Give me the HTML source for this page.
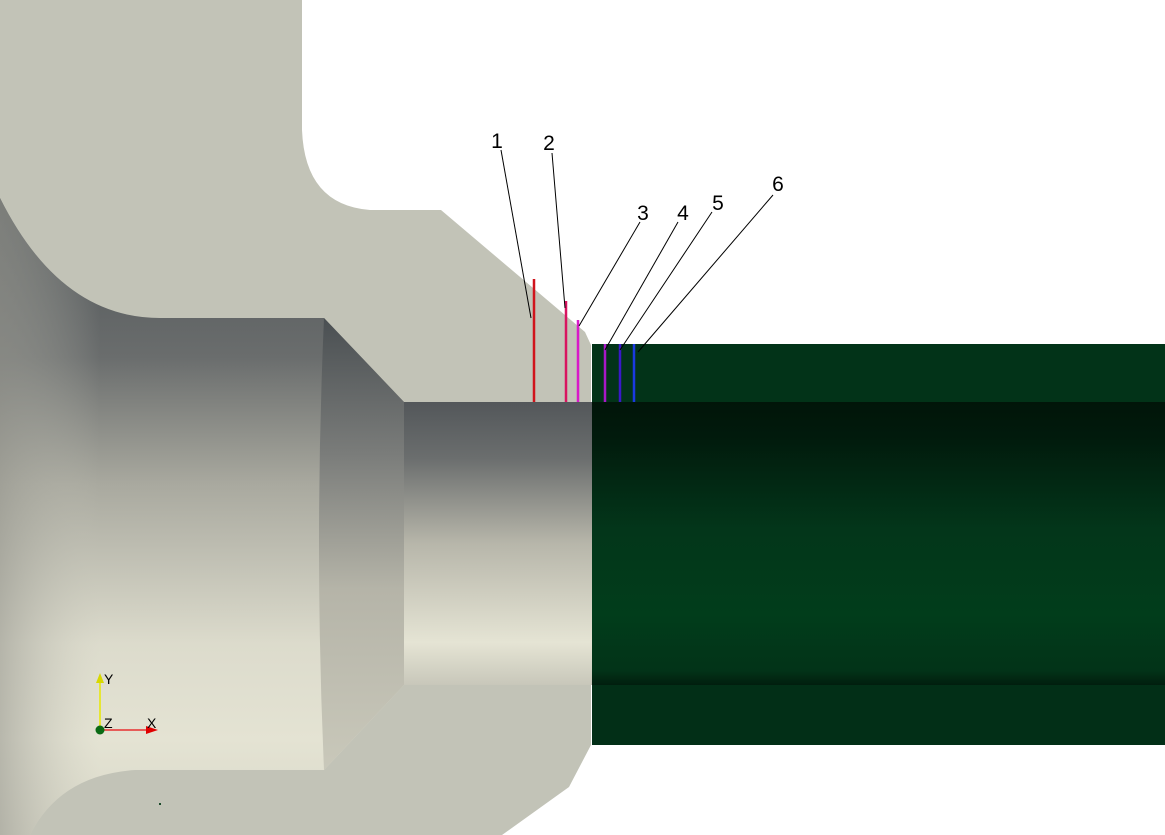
<!DOCTYPE html>
<html><head><meta charset="utf-8"><style>
html,body{margin:0;padding:0;background:#fff;}
svg{display:block;}
text{font-family:"Liberation Sans",sans-serif;}
</style></head><body>
<svg width="1165" height="835" viewBox="0 0 1165 835" xmlns="http://www.w3.org/2000/svg">
<defs>
<linearGradient id="cav" x1="0" y1="0" x2="0" y2="1">
<stop offset="0" stop-color="#4e5356"/>
<stop offset="0.25" stop-color="#6a6d6d"/>
<stop offset="0.45" stop-color="#a9a99f"/>
<stop offset="0.7" stop-color="#dcdbcc"/>
<stop offset="0.85" stop-color="#e4e3d3"/>
<stop offset="1" stop-color="#d8d7c8"/>
</linearGradient>
<linearGradient id="lft" x1="0" y1="0" x2="1" y2="0">
<stop offset="0" stop-color="#9a9a92" stop-opacity="0.6"/>
<stop offset="0.5" stop-color="#c8c8bc" stop-opacity="0"/>
</linearGradient>
<linearGradient id="fr" x1="0" y1="0" x2="0" y2="1">
<stop offset="0" stop-color="#4a4f52"/>
<stop offset="0.3" stop-color="#7a7c7a"/>
<stop offset="0.6" stop-color="#b5b4a8"/>
<stop offset="1" stop-color="#c9c8ba"/>
</linearGradient>
<linearGradient id="neck" x1="0" y1="0" x2="0" y2="1">
<stop offset="0" stop-color="#53575a"/>
<stop offset="0.2" stop-color="#6b6e6e"/>
<stop offset="0.5" stop-color="#b7b6aa"/>
<stop offset="0.85" stop-color="#e5e4d4"/>
<stop offset="1" stop-color="#c8c7ba"/>
</linearGradient>
<linearGradient id="grn" x1="0" y1="0" x2="0" y2="1">
<stop offset="0" stop-color="#011509"/>
<stop offset="0.12" stop-color="#011a0c"/>
<stop offset="0.45" stop-color="#03361a"/>
<stop offset="0.75" stop-color="#013d1b"/>
<stop offset="0.95" stop-color="#023318"/>
<stop offset="1" stop-color="#011e0e"/>
</linearGradient>
</defs>
<!-- solid gray body -->
<path d="M0 0 L302 0 L302 130 Q305 205 370 210 L441 210 L585 332 L591 345 L591 745 L569 787 L502 835 L0 835 Z" fill="#c2c3b7"/>
<!-- cavity -->
<path d="M0 198 Q60 318 160 318 L324 318 L404 402 L592 402 L592 685 L404 685 L324 770 L135 770 Q60 775 30 835 L0 835 Z" fill="url(#cav)"/>
<path d="M0 198 Q60 318 160 318 L200 318 L200 770 L135 770 Q60 775 30 835 L0 835 Z" fill="url(#lft)"/>
<!-- frustum -->
<path d="M324 318 L404 402 Q412 545 404 685 L324 770 Q314 545 324 318 Z" fill="url(#fr)"/>
<!-- neck -->
<rect x="404" y="402" width="188" height="283" fill="url(#neck)"/>
<!-- green -->
<rect x="592" y="344" width="573" height="401" fill="#023318"/>
<rect x="592" y="402" width="573" height="283" fill="url(#grn)"/>
<rect x="592" y="685" width="573" height="60" fill="#022f17"/>
<!-- probe lines -->
<line x1="534" y1="279" x2="534" y2="402" stroke="#d0141c" stroke-width="2.5"/>
<line x1="566" y1="301" x2="566" y2="402" stroke="#d81460" stroke-width="2.5"/>
<line x1="578" y1="320" x2="578" y2="402" stroke="#d81ac8" stroke-width="2.5"/>
<line x1="605" y1="344" x2="605" y2="402" stroke="#a818c8" stroke-width="2.5"/>
<line x1="620" y1="344" x2="620" y2="402" stroke="#3a18c8" stroke-width="2.5"/>
<line x1="634" y1="344" x2="634" y2="402" stroke="#1a3ae0" stroke-width="2.5"/>
<!-- leaders -->
<g stroke="#000" stroke-width="1">
<line x1="501" y1="150" x2="531" y2="318"/>
<line x1="552" y1="153" x2="565" y2="308"/>
<line x1="640" y1="222" x2="579" y2="326"/>
<line x1="678" y1="222" x2="605" y2="350"/>
<line x1="712" y1="212" x2="620" y2="350"/>
<line x1="773" y1="195" x2="638" y2="352"/>
</g>
<g font-size="21" fill="#000" text-anchor="middle">
<text x="497" y="148">1</text>
<text x="549" y="150">2</text>
<text x="643" y="220">3</text>
<text x="683" y="220">4</text>
<text x="718" y="210">5</text>
<text x="778" y="191">6</text>
</g>
<!-- axes -->
<line x1="100" y1="730" x2="100" y2="680" stroke="#e8e800" stroke-width="1.5"/>
<polygon points="96,683 104,683 100,673" fill="#d8d800"/>
<line x1="100" y1="730" x2="150" y2="730" stroke="#e83030" stroke-width="1.5"/>
<polygon points="146,726 146,734 158,730" fill="#e00000"/>
<circle cx="100" cy="730" r="4.5" fill="#0a6a14"/>
<g font-size="14" fill="#000">
<text x="104" y="684">Y</text>
<text x="104" y="728">Z</text>
<text x="147" y="728">X</text>
</g>
<rect x="159" y="803" width="2" height="2" fill="#1a4a2a"/>
</svg>
</body></html>
